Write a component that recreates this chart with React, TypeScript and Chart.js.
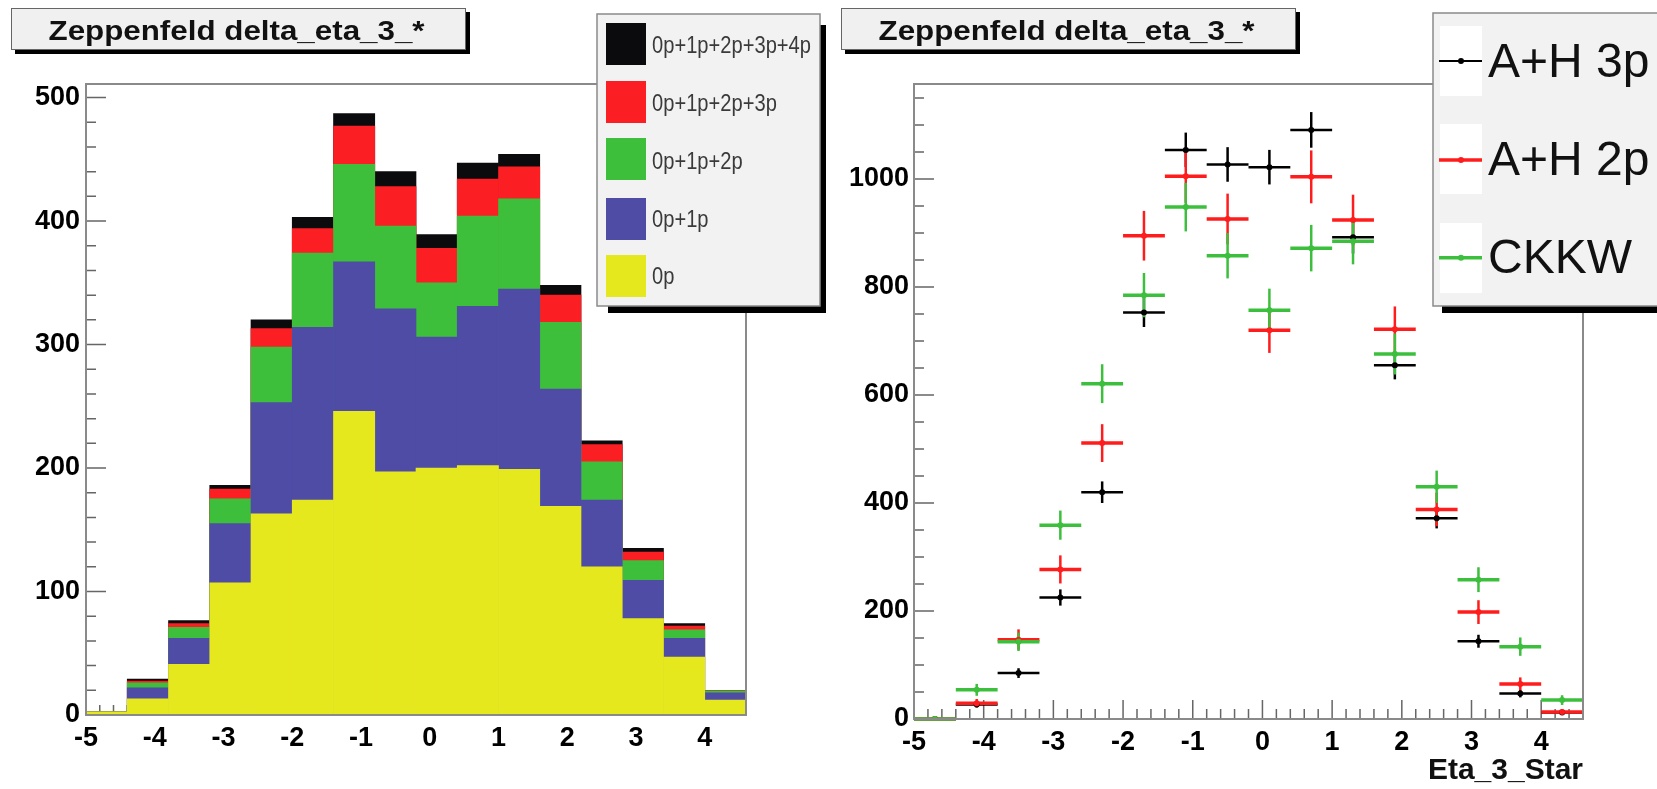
import React, { useEffect, useRef } from "react";
import { Chart, registerables } from "chart.js";

Chart.register(...registerables);

// ---------- data ----------
const binCenters = [-4.7, -4.1, -3.5, -2.9, -2.3, -1.7, -1.1, -0.5, 0.1, 0.7, 1.3, 1.9, 2.5, 3.1, 3.7, 4.3];
const binHalfWidth = 0.3;
const xTickValues = [-5, -4, -3, -2, -1, 0, 1, 2, 3, 4];
const leftYTickValues = [0, 100, 200, 300, 400, 500];
const rightYTickValues = [0, 200, 400, 600, 800, 1000];

const stackLabels = ["0p", "0p+1p", "0p+1p+2p", "0p+1p+2p+3p", "0p+1p+2p+3p+4p"];
const stack0p = [2.5, 13, 41, 107, 163, 174, 246, 197, 200, 202, 199, 169, 120, 78, 47, 12];
const stack0p1p = [2.5, 22, 62, 155, 253, 314, 367, 329, 306, 331, 345, 264, 174, 109, 62, 18];
const stack0p1p2p = [2.5, 26, 71, 175, 298, 374, 446, 396, 350, 404, 418, 318, 205, 125, 69, 19.5];
const stack0p1p2p3p = [2.5, 27.5, 74, 183, 313, 394, 477, 428, 378, 434, 444, 340, 219, 132, 72, 19.7];
const stack0p1p2p3p4p = [2.5, 29, 76.5, 186, 320, 403, 487, 440, 389, 447, 454, 348, 222, 135, 74, 20];
const stackColors = ["#e6e81e", "#4f4ca6", "#3dbf3b", "#fb1f24", "#0b0b0d"];

const compLabels = ["A+H 3p", "A+H 2p", "CKKW"];
const ah3p = [0, 27, 85, 225, 420, 753, 1054, 1027, 1022, 1091, 892, 655, 372, 144, 47, 12];
const ah3pErr = [0, 5, 9, 15, 20, 27, 32, 32, 32, 33, 30, 26, 19, 12, 7, 3];
const ah2p = [0, 29, 147, 277, 511, 895, 1005, 926, 720, 1004, 924, 722, 388, 198, 65, 13];
const ah2pErr = [0, 8, 19, 26, 35, 46, 49, 47, 42, 49, 47, 42, 31, 22, 12, 5];
const ckkw = [0, 54, 143, 359, 621, 785, 948, 858, 757, 872, 885, 676, 430, 258, 134, 35];
const ckkwErr = [0, 11, 17, 27, 36, 41, 45, 42, 40, 43, 43, 38, 30, 23, 17, 9];
const compColors = ["#000000", "#ff1c1c", "#3cbf3c"];

const titleText = "Zeppenfeld delta_eta_3_*";
const xAxisTitle = "Eta_3_Star";

const FONT = "'Liberation Sans', Arial, Helvetica, sans-serif";

// ---------- drawing helpers ----------
function drawTitleBox(ctx: CanvasRenderingContext2D) {
  const x = 11, y = 8, w = 455, h = 42, s = 4;
  ctx.save();
  ctx.fillStyle = "#000";
  ctx.fillRect(x + s, y + h, w, s);
  ctx.fillRect(x + w, y + s, s, h);
  ctx.fillStyle = "#f0f0f0";
  ctx.fillRect(x, y, w, h);
  ctx.strokeStyle = "#666";
  ctx.lineWidth = 1;
  ctx.strokeRect(x + 0.5, y + 0.5, w - 1, h - 1);
  ctx.fillStyle = "#111";
  ctx.font = `bold 27px ${FONT}`;
  const tw = ctx.measureText(titleText).width;
  ctx.translate(x + w / 2 - 2, 40);
  ctx.scale(376 / tw, 1);
  ctx.textAlign = "center";
  ctx.textBaseline = "alphabetic";
  ctx.fillText(titleText, 0, 0);
  ctx.restore();
}

function drawInwardTicks(chart: any, xMinor: number, xMajor: number, yMinor: number, yMajor: number) {
  const { ctx, chartArea: a } = chart;
  const xs = chart.scales.x, ys = chart.scales.y;
  ctx.save();
  ctx.strokeStyle = "#666";
  ctx.lineWidth = 1.5;
  ctx.beginPath();
  const n0 = Math.ceil(xs.min / xMinor - 1e-6), n1 = Math.floor(xs.max / xMinor + 1e-6);
  for (let i = n0; i <= n1; i++) {
    const v = i * xMinor;
    const major = Math.abs(v / xMajor - Math.round(v / xMajor)) < 1e-6;
    const px = xs.getPixelForValue(v);
    ctx.moveTo(px, a.bottom);
    ctx.lineTo(px, a.bottom - (major ? 19 : 10));
  }
  const m0 = Math.ceil(ys.min / yMinor - 1e-6), m1 = Math.floor(ys.max / yMinor + 1e-6);
  for (let i = m0; i <= m1; i++) {
    const v = i * yMinor;
    const major = Math.abs(v / yMajor - Math.round(v / yMajor)) < 1e-6;
    const py = ys.getPixelForValue(v);
    ctx.moveTo(a.left, py);
    ctx.lineTo(a.left + (major ? 20 : 10), py);
  }
  ctx.stroke();
  ctx.restore();
}

function drawFrame(chart: any) {
  const { ctx, chartArea: a } = chart;
  ctx.save();
  ctx.strokeStyle = "#8a8a8a";
  ctx.lineWidth = 2;
  ctx.strokeRect(a.left, a.top, a.right - a.left, a.bottom - a.top);
  ctx.restore();
}

function drawStackLegend(ctx: CanvasRenderingContext2D) {
  const bx = 597, by = 14, bw = 223, bh = 292;
  ctx.save();
  ctx.fillStyle = "#000";
  ctx.fillRect(bx + 11, by + bh, bw - 5, 7);
  ctx.fillRect(bx + bw, by + 11, 6, bh - 4);
  ctx.fillStyle = "#f2f2f2";
  ctx.fillRect(bx, by, bw, bh);
  ctx.strokeStyle = "#8a8a8a";
  ctx.lineWidth = 1.5;
  ctx.strokeRect(bx, by, bw, bh);
  const order = [4, 3, 2, 1, 0];
  const tops = [23, 81, 138, 198, 255];
  const bases = [52.7, 110.5, 168.5, 226.7, 283.5];
  ctx.font = `23px ${FONT}`;
  const longest = ctx.measureText(stackLabels[4]).width;
  const sx = 159 / longest;
  order.forEach((k, r) => {
    ctx.fillStyle = stackColors[k];
    ctx.fillRect(606, tops[r], 40, 42);
    ctx.save();
    ctx.fillStyle = "#3a3a3a";
    ctx.translate(652, bases[r]);
    ctx.scale(sx, 1);
    ctx.textAlign = "left";
    ctx.textBaseline = "alphabetic";
    ctx.fillText(stackLabels[k], 0, 0);
    ctx.restore();
  });
  ctx.restore();
}

function drawCompLegend(ctx: CanvasRenderingContext2D) {
  const bx = 603, by = 13, bh = 293;
  ctx.save();
  ctx.fillStyle = "#000";
  ctx.fillRect(bx + 9, by + bh, 300, 7);
  ctx.fillStyle = "#f2f2f2";
  ctx.fillRect(bx, by, 300, bh);
  ctx.strokeStyle = "#8a8a8a";
  ctx.lineWidth = 1.5;
  ctx.strokeRect(bx, by, 300, bh);
  const whiteTops = [26, 124, 223];
  const lineYs = [61, 160, 257.7];
  const bases = [76.5, 175, 273];
  const widths = [2, 3.5, 3.5];
  compLabels.forEach((lab, r) => {
    ctx.fillStyle = "#ffffff";
    ctx.fillRect(610, whiteTops[r], 42, 70);
    ctx.strokeStyle = compColors[r];
    ctx.lineWidth = widths[r];
    ctx.beginPath();
    ctx.moveTo(609, lineYs[r]);
    ctx.lineTo(652, lineYs[r]);
    ctx.stroke();
    ctx.fillStyle = compColors[r];
    ctx.beginPath();
    ctx.arc(631, lineYs[r], 3, 0, Math.PI * 2);
    ctx.fill();
    ctx.fillStyle = "#111";
    ctx.font = `48px ${FONT}`;
    ctx.textAlign = "left";
    ctx.textBaseline = "alphabetic";
    ctx.fillText(lab, 658, bases[r]);
  });
  ctx.restore();
}

const tickFont = { family: FONT, size: 27, weight: "bold" as const };
const setTicks = (vals: number[]) => (s: any) => {
  s.ticks = vals.map((v) => ({ value: v }));
};
const plainLabel = (v: any) => String(v);

// ---------- configs ----------
function leftConfig(): any {
  const series = [stack0p, stack0p1p, stack0p1p2p, stack0p1p2p3p, stack0p1p2p3p4p];
  return {
    type: "bar",
    data: {
      datasets: series.map((vals, k) => ({
        label: stackLabels[k],
        data: binCenters.map((x, i) => ({ x, y: vals[i] })),
        backgroundColor: stackColors[k],
        borderWidth: 0,
        barPercentage: 1,
        categoryPercentage: 1,
        grouped: false,
      })),
    },
    options: {
      responsive: false,
      animation: false,
      events: [],
      layout: { padding: { left: 26, right: 84, top: 84, bottom: 34 } },
      plugins: { legend: { display: false }, tooltip: { enabled: false }, title: { display: false } },
      scales: {
        x: {
          type: "linear",
          min: -5,
          max: 4.6,
          offset: false,
          grid: { display: false, drawTicks: false },
          border: { display: false },
          ticks: { font: tickFont, color: "#000", padding: 7, maxRotation: 0, autoSkip: false, callback: plainLabel },
          afterBuildTicks: setTicks(xTickValues),
          afterFit: (s: any) => { s.height = 40; },
        },
        y: {
          type: "linear",
          min: 0,
          max: 511,
          grid: { display: false, drawTicks: false },
          border: { display: false },
          ticks: { font: tickFont, color: "#000", padding: 6, callback: plainLabel },
          afterBuildTicks: setTicks(leftYTickValues),
          afterFit: (s: any) => { s.width = 60; },
        },
      },
    },
    plugins: [
      {
        id: "rootDecorLeft",
        beforeDatasetsDraw(chart: any) { drawInwardTicks(chart, 0.2, 1, 20, 100); },
        afterDatasetsDraw(chart: any) { drawFrame(chart); },
        afterDraw(chart: any) { drawTitleBox(chart.ctx); drawStackLegend(chart.ctx); },
      },
    ],
  };
}

function rightConfig(): any {
  const series = [ckkw, ah2p, ah3p];
  const errs = [ckkwErr, ah2pErr, ah3pErr];
  const labels = [compLabels[2], compLabels[1], compLabels[0]];
  const colors = [compColors[2], compColors[1], compColors[0]];
  const hw = [3.5, 3.5, 2.5];
  return {
    type: "scatter",
    data: {
      datasets: series.map((vals, k) => ({
        label: labels[k],
        data: binCenters.map((x, i) => ({ x, y: vals[i] })),
        yErr: errs[k],
        hLineWidth: hw[k],
        backgroundColor: colors[k],
        borderColor: colors[k],
        pointRadius: 3,
        pointBorderWidth: 0,
        showLine: false,
      })),
    },
    options: {
      responsive: false,
      animation: false,
      events: [],
      layout: { padding: { left: 14, right: 74, top: 84, bottom: 0 } },
      plugins: { legend: { display: false }, tooltip: { enabled: false }, title: { display: false } },
      scales: {
        x: {
          type: "linear",
          min: -5,
          max: 4.6,
          offset: false,
          grid: { display: false, drawTicks: false },
          border: { display: false },
          ticks: { font: tickFont, color: "#000", padding: 7, maxRotation: 0, autoSkip: false, callback: plainLabel },
          afterBuildTicks: setTicks(xTickValues),
          title: { display: true, text: xAxisTitle, align: "end", color: "#111", font: { family: FONT, size: 30, weight: "bold" }, padding: { top: 0, bottom: 0 } },
          afterFit: (s: any) => { s.height = 70; },
        },
        y: {
          type: "linear",
          min: 0,
          max: 1176,
          grid: { display: false, drawTicks: false },
          border: { display: false },
          ticks: { font: tickFont, color: "#000", padding: 5, callback: plainLabel },
          afterBuildTicks: setTicks(rightYTickValues),
          afterFit: (s: any) => { s.width = 70; },
        },
      },
    },
    plugins: [
      {
        id: "rootDecorRight",
        beforeDatasetsDraw(chart: any) {
          drawInwardTicks(chart, 0.2, 1, 50, 200);
          const { ctx } = chart;
          const xs = chart.scales.x, ys = chart.scales.y;
          const dss = chart.data.datasets;
          for (let d = dss.length - 1; d >= 0; d--) {
            const ds = dss[d];
            ctx.save();
            ctx.strokeStyle = ds.borderColor;
            ds.data.forEach((p: any, i: number) => {
              const py = ys.getPixelForValue(p.y);
              const px = xs.getPixelForValue(p.x);
              ctx.lineWidth = ds.hLineWidth;
              ctx.beginPath();
              ctx.moveTo(xs.getPixelForValue(p.x - binHalfWidth), py);
              ctx.lineTo(xs.getPixelForValue(p.x + binHalfWidth), py);
              ctx.stroke();
              const e = ds.yErr[i];
              if (e > 0) {
                ctx.lineWidth = 2.5;
                ctx.beginPath();
                ctx.moveTo(px, ys.getPixelForValue(p.y + e));
                ctx.lineTo(px, ys.getPixelForValue(Math.max(0, p.y - e)));
                ctx.stroke();
              }
            });
            ctx.restore();
          }
        },
        afterDatasetsDraw(chart: any) { drawFrame(chart); },
        afterDraw(chart: any) { drawTitleBox(chart.ctx); drawCompLegend(chart.ctx); },
      },
    ],
  };
}

export default function App() {
  const leftRef = useRef<HTMLCanvasElement>(null);
  const rightRef = useRef<HTMLCanvasElement>(null);
  useEffect(() => {
    const left = new Chart(leftRef.current as HTMLCanvasElement, leftConfig());
    const right = new Chart(rightRef.current as HTMLCanvasElement, rightConfig());
    return () => {
      left.destroy();
      right.destroy();
    };
  }, []);
  return (
    <div style={{ position: "fixed", left: 0, top: 0, width: 1657, height: 789, background: "#fff", overflow: "hidden" }}>
      <canvas ref={leftRef} width={830} height={789} style={{ position: "absolute", left: 0, top: 0, width: 830, height: 789 }} />
      <canvas ref={rightRef} width={827} height={789} style={{ position: "absolute", left: 830, top: 0, width: 827, height: 789 }} />
    </div>
  );
}
